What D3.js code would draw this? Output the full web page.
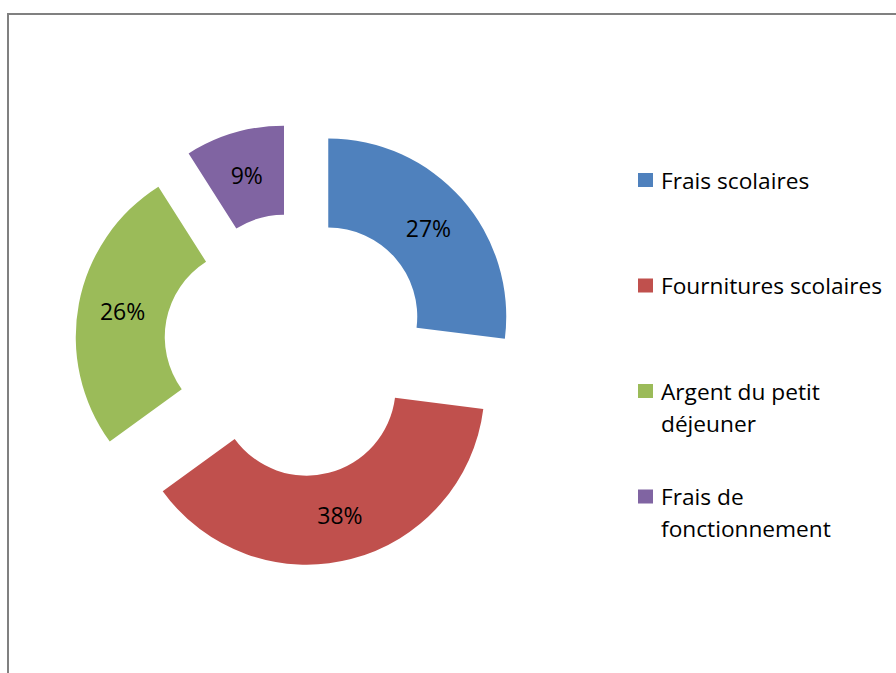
<!DOCTYPE html>
<html>
<head>
<meta charset="utf-8">
<script src="https://cdn.jsdelivr.net/npm/d3@7"></script>
<style>
  body { margin: 0; background: #fff; }
  text { font-family: "Open Sans", "Liberation Sans", sans-serif; }
</style>
</head>
<body>
<div id="chart-area"></div>
<script>
const categories = ["Frais scolaires", "Fournitures scolaires", "Argent du petit déjeuner", "Frais de fonctionnement"];
const values = [27, 38, 26, 9];
const colors = ["#4F81BD", "#C0504D", "#9BBB59", "#8064A2"];

const canvasWidth = 896;
const canvasHeight = 673;

const center = {x: 296, y: 345};
const outerRadius = 178;
const innerRadius = 89;
const explode = 43;

const canvas = d3.select("#chart-area").append("svg").attr("width", canvasWidth).attr("height", canvasHeight);

// chart frame (cropped on the right and bottom)
canvas.append("rect")
  .attr("x", 8).attr("y", 14)
  .attr("width", 900).attr("height", 700)
  .attr("fill", "none")
  .attr("stroke", "#808080")
  .attr("stroke-width", 2);

const pie = d3.pie().sort(null).value(d => d);
const arc = d3.arc().innerRadius(innerRadius).outerRadius(outerRadius);
const color = d3.scaleOrdinal().domain(categories).range(colors);

const slices = canvas.append("g")
  .attr("transform", `translate(${center.x}, ${center.y})`)
  .selectAll("g")
  .data(pie(values))
  .enter()
  .append("g")
  .attr("transform", d => {
    const mid = (d.startAngle + d.endAngle) / 2;
    return `translate(${explode * Math.sin(mid)}, ${-explode * Math.cos(mid)})`;
  });

slices.append("path")
  .attr("d", arc)
  .attr("fill", (d, i) => color(categories[i]));

slices.append("text")
  .attr("transform", d => `translate(${arc.centroid(d)})`)
  .attr("text-anchor", "middle")
  .attr("dy", "0.36em")
  .attr("font-size", "23px")
  .attr("fill", "#000")
  .text(d => `${d.value}%`);

// legend
const legendX = 638;
const legendTop = 173;
const legendStep = 105.5;
const lineHeight = 32;
const maxLegendWidth = 240;

const legend = canvas.append("g");

categories.forEach((name, i) => {
  const y = legendTop + i * legendStep;
  legend.append("rect")
    .attr("x", legendX).attr("y", y)
    .attr("width", 15).attr("height", 14)
    .attr("fill", color(name));

  const label = legend.append("text")
    .attr("x", legendX + 23)
    .attr("y", y + 15.5)
    .attr("font-size", "22.7px")
    .attr("fill", "#000");

  // greedy word wrap
  const words = name.split(" ");
  let line = [];
  let tspan = label.append("tspan").attr("x", legendX + 23).attr("dy", 0);
  words.forEach(w => {
    line.push(w);
    tspan.text(line.join(" "));
    if (tspan.node().getComputedTextLength() > maxLegendWidth && line.length > 1) {
      line.pop();
      tspan.text(line.join(" "));
      line = [w];
      tspan = label.append("tspan").attr("x", legendX + 23).attr("dy", lineHeight).text(w);
    }
  });
});
</script>
</body>
</html>
